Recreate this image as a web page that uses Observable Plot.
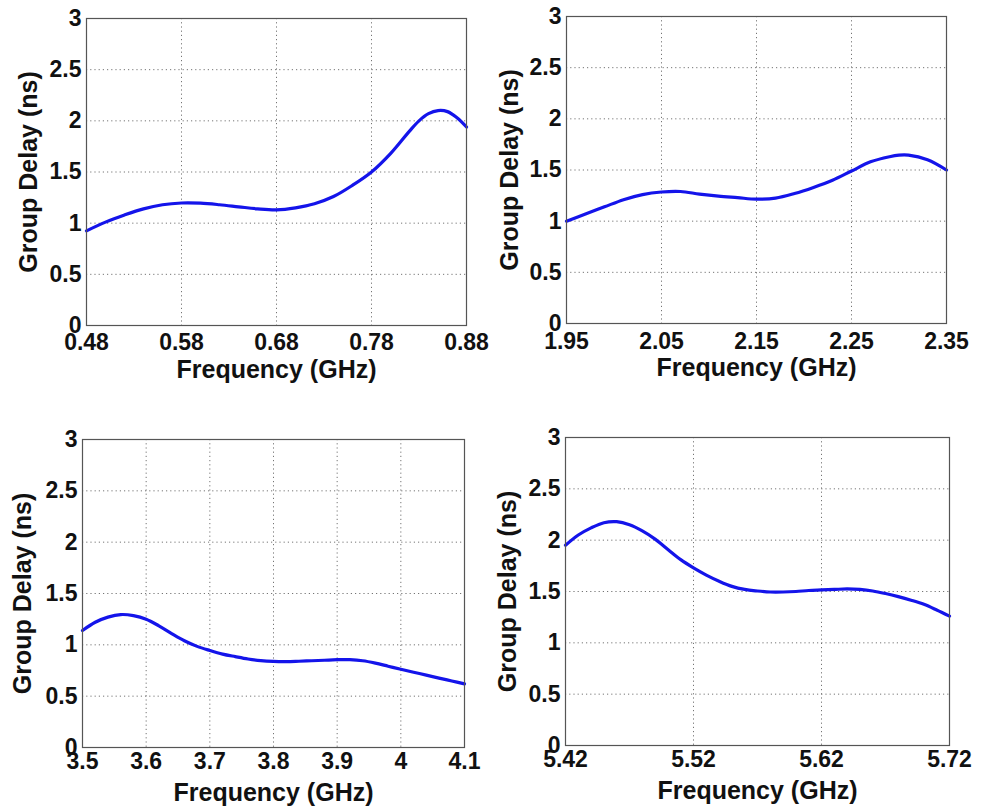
<!DOCTYPE html>
<html>
<head>
<meta charset="utf-8">
<script src="https://cdn.jsdelivr.net/npm/d3@7"></script>
<script src="https://cdn.jsdelivr.net/npm/@observablehq/plot@0.6"></script>
<style>
  html, body { margin: 0; padding: 0; background: #fff; }
  #chart { position: relative; width: 986px; height: 809px; background: #fff; }
  #chart svg { position: absolute; overflow: visible; }
</style>
</head>
<body>
<div id="chart"></div>
<script>
// ---- Data ----
const yTicks = [0, 0.5, 1, 1.5, 2, 2.5, 3];
const yTickLabels = ["0", "0.5", "1", "1.5", "2", "2.5", "3"];

const freq1  = [0.48, 0.50, 0.52, 0.54, 0.56, 0.58, 0.60, 0.62, 0.64, 0.66, 0.68, 0.70, 0.72, 0.74, 0.76, 0.78, 0.80, 0.82, 0.83, 0.84, 0.85, 0.86, 0.87, 0.88];
const delay1 = [0.925, 1.01, 1.08, 1.14, 1.18, 1.197, 1.195, 1.18, 1.16, 1.14, 1.13, 1.15, 1.19, 1.26, 1.37, 1.50, 1.68, 1.90, 2.00, 2.07, 2.10, 2.09, 2.03, 1.94];
const xTicks1 = [0.48, 0.58, 0.68, 0.78, 0.88];
const xTickLabels1 = ["0.48", "0.58", "0.68", "0.78", "0.88"];

const freq2  = [1.95, 1.97, 1.99, 2.01, 2.03, 2.05, 2.07, 2.09, 2.11, 2.13, 2.15, 2.17, 2.19, 2.21, 2.23, 2.25, 2.27, 2.29, 2.30, 2.31, 2.33, 2.35];
const delay2 = [1.00, 1.07, 1.14, 1.21, 1.26, 1.285, 1.29, 1.265, 1.245, 1.23, 1.215, 1.225, 1.27, 1.33, 1.40, 1.49, 1.58, 1.63, 1.645, 1.645, 1.60, 1.50];
const xTicks2 = [1.95, 2.05, 2.15, 2.25, 2.35];
const xTickLabels2 = ["1.95", "2.05", "2.15", "2.25", "2.35"];

const freq3  = [3.50, 3.52, 3.54, 3.56, 3.58, 3.60, 3.62, 3.64, 3.66, 3.68, 3.70, 3.72, 3.74, 3.76, 3.78, 3.80, 3.82, 3.84, 3.86, 3.88, 3.90, 3.92, 3.94, 3.96, 3.98, 4.00, 4.02, 4.04, 4.06, 4.08, 4.10];
const delay3 = [1.14, 1.22, 1.27, 1.295, 1.285, 1.25, 1.185, 1.11, 1.04, 0.985, 0.945, 0.91, 0.885, 0.862, 0.846, 0.838, 0.836, 0.84, 0.845, 0.85, 0.855, 0.855, 0.845, 0.822, 0.792, 0.762, 0.733, 0.705, 0.676, 0.648, 0.62];
const xTicks3 = [3.5, 3.6, 3.7, 3.8, 3.9, 4.0, 4.1];
const xTickLabels3 = ["3.5", "3.6", "3.7", "3.8", "3.9", "4", "4.1"];

const freq4  = [5.42, 5.43, 5.44, 5.45, 5.46, 5.47, 5.48, 5.49, 5.50, 5.51, 5.52, 5.53, 5.54, 5.55, 5.56, 5.57, 5.58, 5.59, 5.60, 5.61, 5.62, 5.63, 5.64, 5.65, 5.66, 5.67, 5.68, 5.69, 5.70, 5.71, 5.72];
const delay4 = [1.95, 2.05, 2.12, 2.17, 2.18, 2.15, 2.09, 2.01, 1.91, 1.81, 1.73, 1.66, 1.60, 1.55, 1.52, 1.505, 1.495, 1.495, 1.50, 1.51, 1.515, 1.52, 1.525, 1.52, 1.505, 1.48, 1.45, 1.415, 1.375, 1.32, 1.26];
const xTicks4 = [5.42, 5.52, 5.62, 5.72];
const xTickLabels4 = ["5.42", "5.52", "5.62", "5.72"];

const xLabel = "Frequency (GHz)";
const yLabel = "Group Delay (ns)";

// ---- Layout ----
const panels = [
  {freq: freq1, delay: delay1, xt: xTicks1, xl: xTickLabels1, left: 0,   top: 0,   w: 493, h: 400, ml: 86, mr: 27, mt: 18, mb: 75, xpad: 8, lab: 52, ylab: 67},
  {freq: freq2, delay: delay2, xt: xTicks2, xl: xTickLabels2, left: 493, top: 0,   w: 493, h: 400, ml: 73, mr: 40, mt: 16, mb: 77, xpad: 9, lab: 52, ylab: 66},
  {freq: freq3, delay: delay3, xt: xTicks3, xl: xTickLabels3, left: 0,   top: 400, w: 493, h: 409, ml: 82, mr: 29, mt: 39, mb: 62, xpad: 5, lab: 53, ylab: 69},
  {freq: freq4, delay: delay4, xt: xTicks4, xl: xTickLabels4, left: 493, top: 400, w: 493, h: 409, ml: 72, mr: 37, mt: 37, mb: 64, xpad: 5, lab: 53, ylab: 67}
];

const FONT = "'Liberation Sans', Arial, Helvetica, sans-serif";
const chart = document.getElementById("chart");

panels.forEach(p => {
  const data = p.freq.map((f, i) => ({f, d: p.delay[i]}));
  const xFmt = v => p.xl[p.xt.findIndex(t => Math.abs(t - v) < 1e-9)];
  const yFmt = v => yTickLabels[yTicks.findIndex(t => Math.abs(t - v) < 1e-9)];
  const plot = Plot.plot({
    width: p.w,
    height: p.h,
    marginLeft: p.ml, marginRight: p.mr, marginTop: p.mt, marginBottom: p.mb,
    style: {fontFamily: FONT, background: "transparent", overflow: "visible"},
    x: {domain: [p.xt[0], p.xt[p.xt.length - 1]]},
    y: {domain: [0, 3]},
    marks: [
      Plot.gridX(p.xt, {stroke: "#666", strokeOpacity: 0.9, strokeWidth: 1, strokeDasharray: "1.2,3"}),
      Plot.gridY(yTicks, {stroke: "#666", strokeOpacity: 0.9, strokeWidth: 1, strokeDasharray: "1.2,3"}),
      Plot.line(data, {x: "f", y: "d", stroke: "#1414ea", strokeWidth: 3.2, curve: "catmull-rom"}),
      Plot.frame({stroke: "#555", strokeWidth: 1.2}),
      Plot.axisX(p.xt, {anchor: "bottom", tickSize: 0, tickPadding: p.xpad, tickFormat: xFmt, label: null,
                        fontSize: 23, fontWeight: "bold", fill: "#111"}),
      Plot.axisX([], {anchor: "bottom", label: xLabel, labelArrow: "none", labelAnchor: "center", labelOffset: p.lab,
                      fontSize: 25, fontWeight: "bold", fill: "#111"}),
      Plot.axisY(yTicks, {anchor: "left", tickSize: 0, tickPadding: 5, tickFormat: yFmt, label: null,
                          fontSize: 23, fontWeight: "bold", fill: "#111"}),
      Plot.axisY([], {anchor: "left", label: yLabel, labelArrow: "none", labelAnchor: "center", labelOffset: p.ylab,
                      fontSize: 25, fontWeight: "bold", fill: "#111"})
    ]
  });
  plot.style.left = p.left + "px";
  plot.style.top = p.top + "px";
  chart.appendChild(plot);
});
</script>
</body>
</html>
